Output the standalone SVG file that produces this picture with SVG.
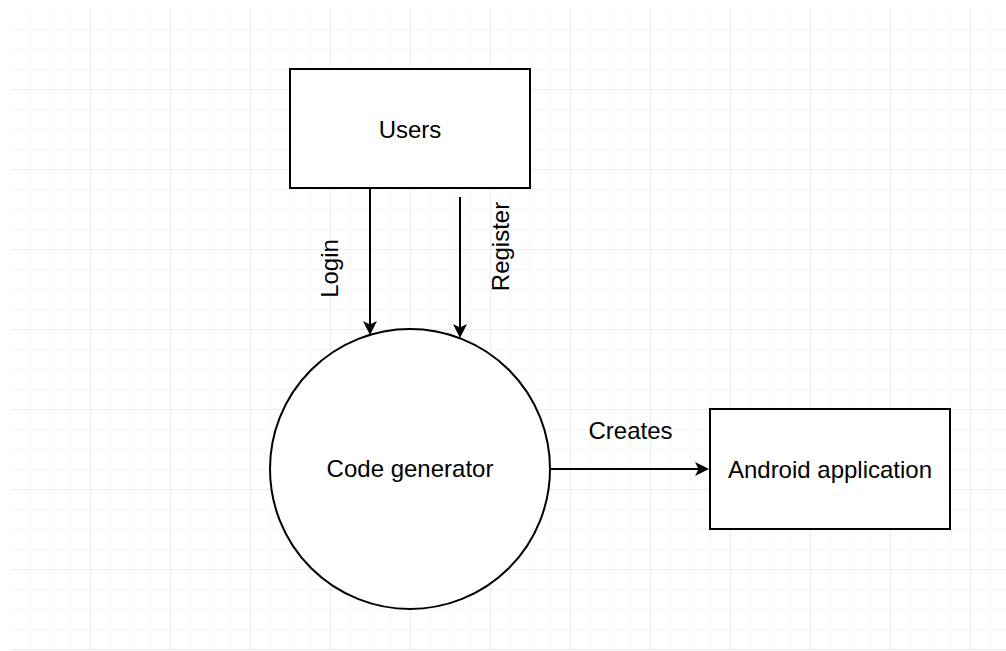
<svg xmlns="http://www.w3.org/2000/svg" width="1006" height="651" viewBox="0 0 1006 651">
  <style>
    .shape { fill: #ffffff; stroke: #000000; stroke-width: 2; }
    .edge { fill: none; stroke: #000000; stroke-width: 2; }
    .label { font-family: "Liberation Sans", Arial, sans-serif; font-size: 24px; fill: #000000; text-anchor: middle; }
  </style>
  <defs>
    <!-- 20px grid with a heavier line every 80px -->
    <pattern id="grid" patternUnits="userSpaceOnUse" x="10" y="9" width="80" height="80">
      <rect x="20" y="0" width="1" height="80" fill="#f6f6f6"/>
      <rect x="40" y="0" width="1" height="80" fill="#f6f6f6"/>
      <rect x="60" y="0" width="1" height="80" fill="#f6f6f6"/>
      <rect x="0" y="20" width="80" height="1" fill="#f6f6f6"/>
      <rect x="0" y="40" width="80" height="1" fill="#f6f6f6"/>
      <rect x="0" y="60" width="80" height="1" fill="#f6f6f6"/>
      <rect x="0" y="0" width="1" height="80" fill="#ebebeb"/>
      <rect x="0" y="0" width="80" height="1" fill="#ebebeb"/>
    </pattern>
    <marker id="arrow" viewBox="0 0 14 14" refX="8" refY="7" markerWidth="14" markerHeight="14" markerUnits="userSpaceOnUse" orient="auto">
      <path d="M0,0 L14,7 L0,14 L3.5,7 Z" fill="#000000"/>
    </marker>
  </defs>

  <rect x="0" y="0" width="1006" height="651" fill="#ffffff"/>
  <rect x="11" y="10" width="995" height="640" fill="url(#grid)"/>

  <g id="connectors">
    <line class="edge" x1="370" y1="188" x2="370" y2="329" marker-end="url(#arrow)"/>
    <line class="edge" x1="460" y1="197" x2="460" y2="332" marker-end="url(#arrow)"/>
    <line class="edge" x1="550" y1="469" x2="703" y2="469" marker-end="url(#arrow)"/>
    <text class="label" transform="translate(338 268.5) rotate(-90)">Login</text>
    <text class="label" transform="translate(509 246.5) rotate(-90)">Register</text>
    <text class="label" x="630.5" y="439">Creates</text>
  </g>

  <g id="users">
    <rect class="shape" x="290" y="69" width="240" height="119"/>
    <text class="label" x="410" y="138">Users</text>
  </g>

  <g id="code-generator">
    <circle class="shape" cx="410" cy="469" r="140"/>
    <text class="label" x="410" y="477">Code generator</text>
  </g>

  <g id="android-application">
    <rect class="shape" x="710" y="409" width="240" height="120"/>
    <text class="label" x="830" y="478">Android application</text>
  </g>
</svg>
